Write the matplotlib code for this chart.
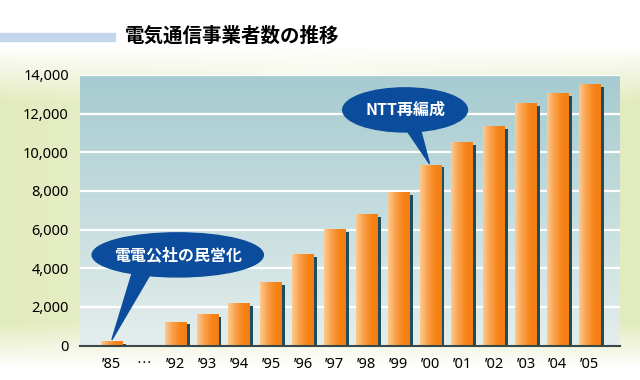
import numpy as np
import matplotlib
matplotlib.use('Agg')
import matplotlib.pyplot as plt
from matplotlib.colors import LinearSegmentedColormap, to_rgb
from matplotlib.patches import Ellipse, Polygon, Rectangle


years = ['’85', '…', '’92', '’93', '’94', '’95', '’96', '’97', '’98', '’99',
         '’00', '’01', '’02', '’03', '’04', '’05']
carriers = [210, None, 1240, 1650, 2200, 3270, 4740, 6045, 6800, 7920,
            9365, 10540, 11365, 12535, 13050, 13530]
yticks = [0, 2000, 4000, 6000, 8000, 10000, 12000, 14000]

title = '電気通信事業者数の推移'
note_privatize = '電電公社の民営化'
note_ntt = 'NTT再編成'

jp = ['Noto Sans CJK JP', 'DejaVu Sans']
num = ['Noto Sans', 'Noto Sans CJK JP', 'DejaVu Sans']

fig = plt.figure(figsize=(6.4, 3.8), dpi=100)

# page background: white top, pale green haze on the sides
bg = fig.add_axes([0, 0, 1, 1], zorder=-10)
h, w = 380, 640
yy = np.linspace(0, 1, h)[:, None]
xx = np.linspace(0, 1, w)[None, :]
vert = np.clip((yy - 0.12) / 0.15, 0, 1) * np.clip((0.97 - yy) / 0.12, 0, 1)
side = 0.55 + 0.45 * np.abs(xx - 0.5) * 2
amt = vert * side
white = np.array([1.0, 1.0, 1.0])
green = np.array(to_rgb('#e2ebbd'))
img = white[None, None, :] * (1 - amt[..., None]) + green[None, None, :] * amt[..., None]
bg.imshow(img, aspect='auto', extent=[0, 1, 0, 1])
bg.set_axis_off()

# title with light blue bar on the left
fig.patches.append(Rectangle((0, 1 - 41 / 380), 115 / 640, 8 / 380,
                             transform=fig.transFigure, color='#c3d6ec', zorder=1))
fig.text(125 / 640, 1 - 36 / 380, title, family=jp, fontsize=14, fontweight='bold',
         va='center', ha='left')

ax = fig.add_axes([80 / 640, 1 - 345.5 / 380, 540 / 640, 270.5 / 380])

grad = np.linspace(0, 1, 100)[:, None]
bgcmap = LinearSegmentedColormap.from_list('plotbg', ['#a6cbd0', '#e4eeec'])
ax.imshow(grad, cmap=bgcmap, aspect='auto', extent=[0, 1, 0, 1],
          transform=ax.transAxes, zorder=0)

for t in yticks[1:]:
    ax.axhline(t, color='white', lw=1.6, zorder=1)

barcmap = LinearSegmentedColormap.from_list('bar', ['#fdca90', '#f9a14c', '#f7861c', '#f47d10'])
x = np.arange(len(years))
width = 0.68
sx = 0.1    # shadow shift in slots
sy = 150    # shadow drop in data units

for i, v in enumerate(carriers):
    if v is None:
        continue
    ax.bar(x[i] + sx, v - sy, width=width, color='#1d4e60', zorder=2)
    bar = ax.bar(x[i], v, width=width, color='#f7861c', zorder=3)[0]
    im = ax.imshow(np.linspace(0, 1, 50)[None, :], cmap=barcmap, aspect='auto',
                   extent=[x[i] - width / 2, x[i] + width / 2, 0, v], zorder=4)
    im.set_clip_path(bar)

ax.set_xlim(-1.0, 15.95)
ax.set_ylim(0, 14000)

ax.set_yticks(yticks)
ax.set_yticklabels([f'{t:,}' for t in yticks], family=num, fontsize=10.5)
ax.set_xticks(x)
ax.set_xticklabels(years, family=num, fontsize=10.5)
# the gap marker sits mid-height, as in a Japanese font
for lab in ax.get_xticklabels():
    if lab.get_text() == '…':
        lab.set_family(jp)
ax.tick_params(length=0)
ax.tick_params(axis='y', pad=8)
ax.tick_params(axis='x', pad=8)

for s in ['top', 'left', 'right']:
    ax.spines[s].set_visible(False)
ax.spines['bottom'].set_color('#3b4848')
ax.spines['bottom'].set_linewidth(1.5)
ax.spines['bottom'].set_zorder(5)

# callout bubbles
blue = '#0b4d9c'
to_axes = ax.transData + ax.transAxes.inverted()


def bubble(center, size, base, tip, text):
    e = Ellipse(center, size[0], size[1], transform=ax.transAxes, color=blue,
                zorder=6, clip_on=False)
    ax.add_patch(e)
    tx, ty = to_axes.transform(tip)
    p = Polygon([base[0], base[1], (tx, ty)], closed=True, transform=ax.transAxes,
                color=blue, zorder=6, clip_on=False)
    ax.add_patch(p)
    ax.text(center[0], center[1], text, transform=ax.transAxes, family=jp,
            fontsize=11.5, fontweight='bold', color='white', ha='center',
            va='center', zorder=7)


bubble((0.181, 0.335), (0.317, 0.163), [(0.10, 0.29), (0.135, 0.28)],
       (0, carriers[0] + 80), note_privatize)
bubble((0.602, 0.871), (0.231, 0.163), [(0.59, 0.84), (0.625, 0.84)],
       (9.97, carriers[10] + 40), note_ntt)

fig.savefig('out.png', dpi=100)
